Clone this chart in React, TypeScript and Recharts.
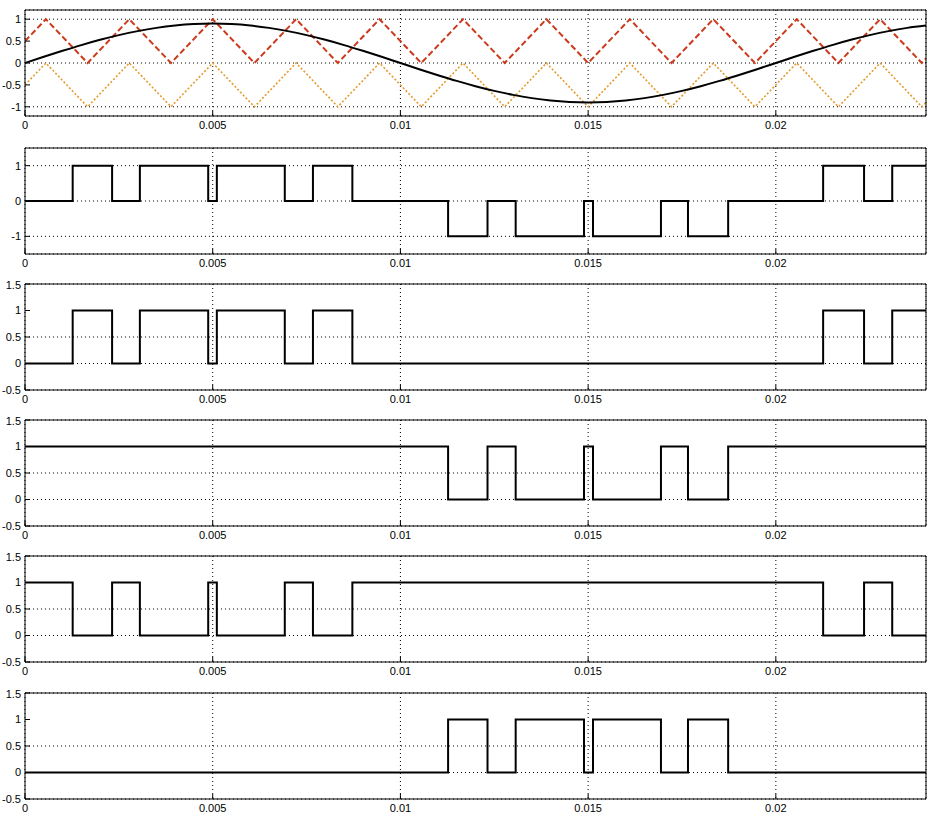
import React from 'react';
import { LineChart, Line, XAxis, YAxis, CartesianGrid } from 'recharts';

// time axis
const xTicks = [0, 0.005, 0.01, 0.015, 0.02];
const xDomain: [number, number] = [0, 0.024];

// reference sine (modulating signal)
const sineT = [
  0, 0.0005, 0.001, 0.0015, 0.002, 0.0025, 0.003, 0.0035, 0.004, 0.0045,
  0.005, 0.0055, 0.006, 0.0065, 0.007, 0.0075, 0.008, 0.0085, 0.009, 0.0095,
  0.01, 0.0105, 0.011, 0.0115, 0.012, 0.0125, 0.013, 0.0135, 0.014, 0.0145,
  0.015, 0.0155, 0.016, 0.0165, 0.017, 0.0175, 0.018, 0.0185, 0.019, 0.0195,
  0.02, 0.0205, 0.021, 0.0215, 0.022, 0.0225, 0.023, 0.0235, 0.024,
];
const sineV = [
  0, 0.141, 0.278, 0.409, 0.529, 0.636, 0.728, 0.802, 0.856, 0.889,
  0.9, 0.889, 0.856, 0.802, 0.728, 0.636, 0.529, 0.409, 0.278, 0.141,
  0, -0.141, -0.278, -0.409, -0.529, -0.636, -0.728, -0.802, -0.856, -0.889,
  -0.9, -0.889, -0.856, -0.802, -0.728, -0.636, -0.529, -0.409, -0.278, -0.141,
  0, 0.141, 0.278, 0.409, 0.529, 0.636, 0.728, 0.802, 0.856,
];

// carrier triangles (vertices)
const carrierT = [
  0, 0.000556, 0.001667, 0.002778, 0.003889, 0.005, 0.006111, 0.007222,
  0.008333, 0.009444, 0.010556, 0.011667, 0.012778, 0.013889, 0.015, 0.016111,
  0.017222, 0.018333, 0.019444, 0.020556, 0.021667, 0.022778, 0.023889, 0.024,
];
const upperCarrier = [
  0.5, 1, 0, 1, 0, 1, 0, 1, 0, 1, 0, 1, 0, 1, 0, 1, 0, 1, 0, 1, 0, 1, 0, 0.1,
];
const lowerCarrier = [
  -0.5, 0, -1, 0, -1, 0, -1, 0, -1, 0, -1, 0, -1, 0, -1, 0, -1, 0, -1, 0, -1, 0, -1, -0.9,
];

// switching edges
const edgesAll = [
  0, 0.00127, 0.00232, 0.00306, 0.00488, 0.00511, 0.00692, 0.00767, 0.00872,
  0.01127, 0.01232, 0.01307, 0.01489, 0.01513, 0.01694, 0.01766, 0.01873,
  0.02126, 0.02235, 0.0231, 0.024,
];
const outputLevels = [0, 1, 0, 1, 0, 1, 0, 1, 0, -1, 0, -1, 0, -1, 0, -1, 0, 1, 0, 1, 1];

const edgesPos = [0, 0.00127, 0.00232, 0.00306, 0.00488, 0.00511, 0.00692, 0.00767, 0.00872, 0.02126, 0.02235, 0.0231, 0.024];
const s1Levels = [0, 1, 0, 1, 0, 1, 0, 1, 0, 1, 0, 1, 1];
const s3Levels = [1, 0, 1, 0, 1, 0, 1, 0, 1, 0, 1, 0, 0];

const edgesNeg = [0, 0.01127, 0.01232, 0.01307, 0.01489, 0.01513, 0.01694, 0.01766, 0.01873, 0.024];
const s2Levels = [1, 0, 1, 0, 1, 0, 1, 0, 1, 1];
const s4Levels = [0, 1, 0, 1, 0, 1, 0, 1, 0, 0];

const yTicksWide = [-1, -0.5, 0, 0.5, 1];
const yTicksOut = [-1, 0, 1];
const yTicksGate = [-0.5, 0, 0.5, 1, 1.5];

const zip = (t: number[], v: number[]) => t.map((x, i) => ({ t: x, v: v[i] }));

const FONT = '"Liberation Sans", Arial, sans-serif';
const tickStyle = { fill: '#000', fontSize: 11, fontFamily: FONT };
const black = { stroke: '#000' };

interface PanelProps {
  top: number;
  domain: [number, number];
  yTicks: number[];
  children: React.ReactNode;
}

const Panel: React.FC<PanelProps> = ({ top, domain, yTicks, children }) => (
  <div style={{ position: 'absolute', left: 0, top: top - 5 }}>
    <LineChart width={933} height={141} margin={{ top: 4, right: 6, bottom: 29, left: 24 }}>
      <CartesianGrid stroke="#000" strokeDasharray="1 3" />
      <XAxis
        dataKey="t"
        type="number"
        domain={xDomain}
        ticks={xTicks}
        allowDataOverflow
        height={1}
        tickSize={-5}
        tickMargin={10}
        axisLine={black}
        tickLine={black}
        tick={tickStyle}
      />
      <XAxis
        xAxisId="top"
        orientation="top"
        dataKey="t"
        type="number"
        domain={xDomain}
        ticks={xTicks}
        allowDataOverflow
        height={1}
        tickSize={-5}
        axisLine={black}
        tickLine={black}
        tick={false}
      />
      <YAxis
        type="number"
        domain={domain}
        ticks={yTicks}
        allowDataOverflow
        width={1}
        tickSize={-5}
        tickMargin={9}
        axisLine={black}
        tickLine={black}
        tick={tickStyle}
      />
      <YAxis
        yAxisId="right"
        orientation="right"
        type="number"
        domain={domain}
        ticks={yTicks}
        allowDataOverflow
        width={1}
        tickSize={-5}
        axisLine={black}
        tickLine={black}
        tick={false}
      />
      {children}
    </LineChart>
  </div>
);

const step = (t: number[], v: number[], key: string) => (
  <Line
    key={key}
    data={zip(t, v)}
    dataKey="v"
    type="stepAfter"
    stroke="#000"
    strokeWidth={2}
    dot={false}
    isAnimationActive={false}
  />
);

export default function App() {
  return (
    <div style={{ position: 'absolute', left: 0, top: 0, width: 933, height: 829, background: '#fff' }}>
      <Panel top={10} domain={[-1.21, 1.21]} yTicks={yTicksWide}>
        <Line
          data={zip(carrierT, lowerCarrier)}
          dataKey="v"
          type="linear"
          stroke="#e59a2c"
          strokeWidth={1.6}
          strokeDasharray="2 2"
          dot={false}
          isAnimationActive={false}
        />
        <Line
          data={zip(carrierT, upperCarrier)}
          dataKey="v"
          type="linear"
          stroke="#cc3a1c"
          strokeWidth={2}
          strokeDasharray="6 3"
          dot={false}
          isAnimationActive={false}
        />
        <Line
          data={zip(sineT, sineV)}
          dataKey="v"
          type="monotone"
          stroke="#000"
          strokeWidth={2}
          dot={false}
          isAnimationActive={false}
        />
      </Panel>
      <Panel top={148} domain={[-1.5, 1.5]} yTicks={yTicksOut}>
        {step(edgesAll, outputLevels, 'out')}
      </Panel>
      <Panel top={284} domain={[-0.5, 1.5]} yTicks={yTicksGate}>
        {step(edgesPos, s1Levels, 's1')}
      </Panel>
      <Panel top={420} domain={[-0.5, 1.5]} yTicks={yTicksGate}>
        {step(edgesNeg, s2Levels, 's2')}
      </Panel>
      <Panel top={556} domain={[-0.5, 1.5]} yTicks={yTicksGate}>
        {step(edgesPos, s3Levels, 's3')}
      </Panel>
      <Panel top={693} domain={[-0.5, 1.5]} yTicks={yTicksGate}>
        {step(edgesNeg, s4Levels, 's4')}
      </Panel>
    </div>
  );
}
